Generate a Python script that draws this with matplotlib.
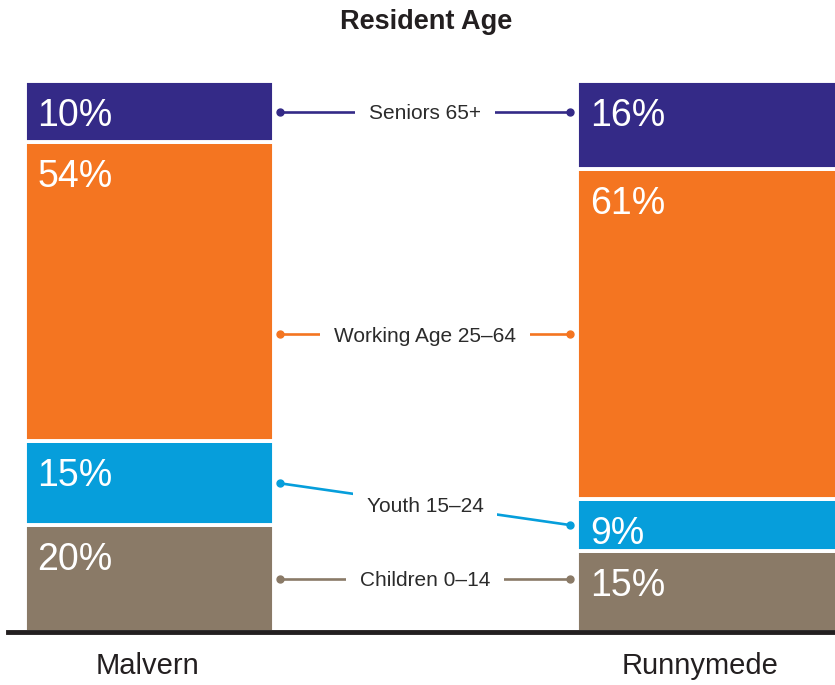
import matplotlib.pyplot as plt
import numpy as np

plt.rcParams['font.family'] = ['Liberation Sans', 'DejaVu Sans']

# data
places = ["Malvern", "Runnymede"]
groups = ["Children 0\u201314", "Youth 15\u201324", "Working Age 25\u201364", "Seniors 65+"]
# shares of each bar as drawn
malvern = [19.4, 15.2, 54.3, 11.1]
runnymede = [14.7, 9.4, 59.9, 16.0]
# printed labels
malvern_labels = ["20%", "15%", "54%", "10%"]
runnymede_labels = ["15%", "9%", "61%", "16%"]
colors = ["#8a7a67", "#069edb", "#f47521", "#342a87"]
# which bar's segment middle the connector line sits on
anchor = ["left", "both", "right", "left"]

fig = plt.figure(figsize=(8.35, 6.85), dpi=100)
ax = fig.add_axes([0, 53 / 685, 1, 551 / 685])

px = 558.5  # pixels per x unit
x = np.array([0, 1 + 1 / px])
widths = [249 / px, 262 / px]
lefts = [x[0] - widths[0] / 2, x[1] - widths[1] / 2]

mids = []
for i, (vals, labs) in enumerate([(malvern, malvern_labels), (runnymede, runnymede_labels)]):
    h = np.array(vals)
    h = h / h.sum() * 100
    bottoms = np.concatenate([[0], np.cumsum(h)[:-1]])
    ax.bar(np.full(len(h), x[i]), h, widths[i], bottom=bottoms, color=colors,
           edgecolor="white", linewidth=2.8)
    for lab, b, hh in zip(labs, bottoms, h):
        ax.text(lefts[i] + 13 / px, b + hh - 3.1, lab,
                color="white", fontsize=27, ha="left", va="top")
    mids.append(bottoms + h / 2)

# connectors
xl = lefts[0] + widths[0] + 6 / px
xr = lefts[1] - 7 / px
for k, g in enumerate(groups):
    yl, yr = mids[0][k], mids[1][k]
    if anchor[k] == "left":
        yr = yl
    elif anchor[k] == "right":
        yl = yr
    ax.plot([xl, xr], [yl, yr], color=colors[k], lw=1.9, zorder=2)
    ax.plot([xl, xr], [yl, yr], "o", color=colors[k], ms=5, zorder=3)
    ax.text((xl + xr) / 2, (yl + yr) / 2, g, fontsize=15, color="#2b2b2b",
            ha="center", va="center_baseline", zorder=4,
            bbox=dict(facecolor="white", edgecolor="none", pad=10))

ax.set_xlim(-149 / px, (835 - 149) / px)
ax.set_ylim(0, 100)
ax.axhline(0, xmin=8 / 835, xmax=1, color="#231f20", lw=3.5, clip_on=False, zorder=5)
ax.axis("off")

for i, p in enumerate(places):
    ax.text(lefts[i] + 123 / px, -6.1, p, fontsize=21, color="#231f20",
            ha="center", va="center")

fig.text(426 / 835, 1 - 22 / 685, "Resident Age", fontsize=19.5, fontweight="bold",
         ha="center", va="center", color="#231f20")

plt.savefig("out.png", dpi=100)
